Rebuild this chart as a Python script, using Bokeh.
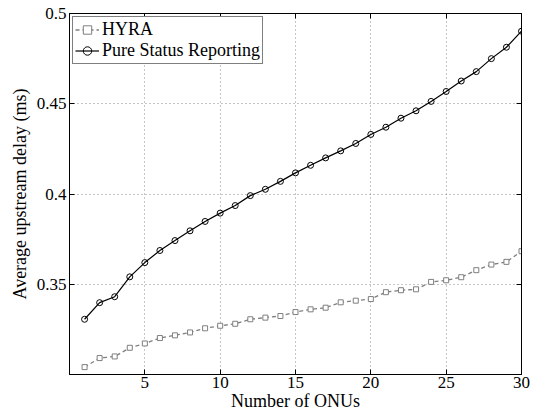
from bokeh.plotting import figure
from bokeh.models import LinearAxis, FixedTicker, Range1d
from bokeh.embed import file_html
from bokeh.resources import INLINE

# ---- data ----
onus = [1, 2, 3, 4, 5, 6, 7, 8, 9, 10, 11, 12, 13, 14, 15,
        16, 17, 18, 19, 20, 21, 22, 23, 24, 25, 26, 27, 28, 29, 30]
hyra = [0.3041, 0.3091, 0.3100, 0.3148, 0.3172, 0.3202, 0.3217, 0.3233, 0.3256, 0.3270,
        0.3281, 0.3306, 0.3315, 0.3324, 0.3346, 0.3361, 0.3370, 0.3400, 0.3409, 0.3418,
        0.3456, 0.3467, 0.3472, 0.3513, 0.3522, 0.3539, 0.3578, 0.3609, 0.3624, 0.3683]
pure = [0.3306, 0.3398, 0.3431, 0.3541, 0.3620, 0.3687, 0.3742, 0.3796, 0.3848, 0.3894,
        0.3936, 0.3991, 0.4026, 0.4070, 0.4117, 0.4159, 0.4200, 0.4239, 0.4280, 0.4330,
        0.4370, 0.4420, 0.4461, 0.4513, 0.4568, 0.4626, 0.4678, 0.4750, 0.4813, 0.4902]
x_ticks = [5, 10, 15, 20, 25, 30]
y_ticks = [0.35, 0.4, 0.45, 0.5]
y_tick_labels = ["0.35", "0.4", "0.45", "0.5"]
series_names = ["HYRA", "Pure Status Reporting"]
x_title = "Number of ONUs"
y_title = "Average upstream delay (ms)"

FONT = "Liberation Serif"

p = figure(width=534, height=417, output_backend="svg", toolbar_location=None,
           x_range=Range1d(0, 30), y_range=Range1d(0.3, 0.5),
           min_border_left=69, min_border_right=13, min_border_top=13, min_border_bottom=43,
           background_fill_color="white", border_fill_color="white")
p.outline_line_color = "black"
p.outline_line_width = 1

# axes
for ax in (p.xaxis[0], p.yaxis[0]):
    ax.major_tick_out = 0
    ax.major_tick_in = 5
    ax.minor_tick_out = 0
    ax.minor_tick_in = 0
    ax.axis_line_color = "black"
    ax.major_tick_line_color = "black"
    ax.major_label_text_font = FONT
    ax.major_label_text_font_size = "17px"
    ax.major_label_text_color = "black"
    ax.axis_label_text_font = FONT
    ax.axis_label_text_font_size = "18px"
    ax.axis_label_text_font_style = "normal"
    ax.axis_label_text_color = "black"

p.xaxis[0].ticker = FixedTicker(ticks=x_ticks)
p.xaxis[0].major_label_standoff = 2
p.xaxis[0].axis_label = x_title
p.xaxis[0].axis_label_standoff = 0
p.yaxis[0].ticker = FixedTicker(ticks=y_ticks)
p.yaxis[0].major_label_overrides = {t: s for t, s in zip(y_ticks, y_tick_labels)}
p.yaxis[0].major_label_standoff = 3
p.yaxis[0].axis_label = y_title
p.yaxis[0].axis_label_standoff = 4

# box ticks on top / right (minor ticks only, so no labels)
top = LinearAxis(ticker=FixedTicker(ticks=[], minor_ticks=x_ticks),
                 major_tick_out=0, major_tick_in=0, minor_tick_out=0, minor_tick_in=5,
                 minor_tick_line_color="black", axis_line_color="black",
                 major_label_standoff=0)
right = LinearAxis(ticker=FixedTicker(ticks=[], minor_ticks=y_ticks),
                   major_tick_out=0, major_tick_in=0, minor_tick_out=0, minor_tick_in=5,
                   minor_tick_line_color="black", axis_line_color="black",
                   major_label_standoff=0)
p.add_layout(top, "above")
p.add_layout(right, "right")

# grid
p.xgrid.ticker = FixedTicker(ticks=x_ticks)
p.ygrid.ticker = FixedTicker(ticks=y_ticks)
for g in (p.xgrid[0], p.ygrid[0]):
    g.grid_line_color = "#8c8c8c"
    g.grid_line_dash = "1 3"
    g.grid_line_width = 1

# series
gray = "#7f7f7f"
p.line(onus, hyra, line_color=gray, line_width=1.3, line_dash="4 3", legend_label=series_names[0])
p.scatter(onus, hyra, marker="square", size=5, line_color=gray, line_width=1,
          fill_color="white", legend_label=series_names[0])
p.line(onus, pure, line_color="black", line_width=1.2, legend_label=series_names[1])
p.scatter(onus, pure, marker="circle", size=6, line_color="black", line_width=1,
          fill_color=None, legend_label=series_names[1])

lg = p.legend[0]
lg.location = "top_left"
lg.margin = 3
lg.padding = 2
lg.spacing = 0
lg.label_standoff = 3
lg.glyph_width = 24
lg.glyph_height = 21
lg.label_height = 21
lg.label_text_font = FONT
lg.label_text_font_size = "18px"
lg.label_text_color = "black"
lg.border_line_color = "black"
lg.border_line_width = 1
lg.background_fill_color = "white"
lg.background_fill_alpha = 1

open("out.html", "w").write(file_html(p, INLINE))
